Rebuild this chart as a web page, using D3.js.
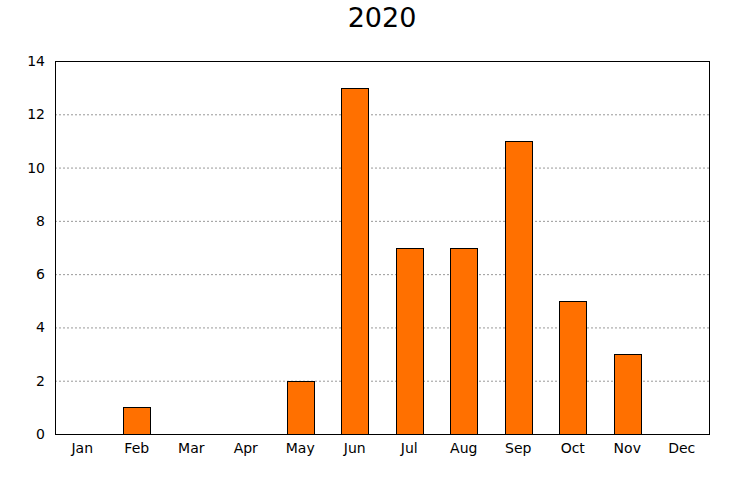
<!DOCTYPE html>
<html><head><meta charset="utf-8">
<script src="https://cdn.jsdelivr.net/npm/d3@7"></script>
<style>body{margin:0;background:#fff}svg{display:block}</style>
</head><body>
<svg id="c" width="740" height="480"></svg>
<script>
const months = ["Jan","Feb","Mar","Apr","May","Jun","Jul","Aug","Sep","Oct","Nov","Dec"];
const counts = [0,1,0,0,2,13,7,7,11,5,3,0];
const yTicks = [0,2,4,6,8,10,12,14];
const title = "2020";

const svg = d3.select("#c");
const m = {l:55, r:31, t:61, b:46};
const W = 740, H = 480;
const x = d3.scaleBand().domain(months).range([m.l, W-m.r]).paddingInner(0).paddingOuter(0);
const y = d3.scaleLinear().domain([0,14]).range([H-m.b, m.t]);
const font = "DejaVu Sans, sans-serif";

// grid
svg.append("g").selectAll("line").data(yTicks.filter(d=>d>0&&d<14)).join("line")
  .attr("x1", m.l).attr("x2", W-m.r)
  .attr("y1", d=>y(d)+0.5).attr("y2", d=>y(d)+0.5)
  .attr("stroke", "#999").attr("stroke-width", 1).attr("stroke-dasharray", "2,2");

// bars
const bw = x.bandwidth()*0.5;
svg.append("g").selectAll("rect").data(months.map((mo,i)=>({mo, v:counts[i]})).filter(d=>d.v>0)).join("rect")
  .attr("x", d=>Math.round(x(d.mo)+x.bandwidth()/2-bw/2)+0.5)
  .attr("y", d=>Math.round(y(d.v))+0.5)
  .attr("width", Math.round(bw))
  .attr("height", d=>Math.round(y(0))-Math.round(y(d.v)))
  .attr("fill", "#ff7000").attr("stroke", "#000").attr("stroke-width", 1);

// frame
svg.append("rect").attr("x", m.l+0.5).attr("y", m.t+0.5)
  .attr("width", W-m.r-m.l).attr("height", H-m.b-m.t)
  .attr("fill", "none").attr("stroke", "#000").attr("stroke-width", 1);

// axes
const xa = d3.axisBottom(x).tickSize(0).tickPadding(9);
svg.append("g").attr("transform", `translate(0,${H-m.b})`).call(xa)
  .call(g=>g.select(".domain").remove())
  .selectAll("text").attr("font-family", font).attr("font-size", 14).attr("fill","#000");
const ya = d3.axisLeft(y).tickValues(yTicks).tickSize(0).tickPadding(10);
svg.append("g").attr("transform", `translate(${m.l},0)`).call(ya)
  .call(g=>g.select(".domain").remove())
  .selectAll("text").attr("font-family", font).attr("font-size", 14).attr("fill","#000");

svg.append("text").attr("x", 382).attr("y", 27).attr("text-anchor","middle")
  .attr("font-family", font).attr("font-size", 27).attr("fill","#000").text(title);
</script>
</body></html>
